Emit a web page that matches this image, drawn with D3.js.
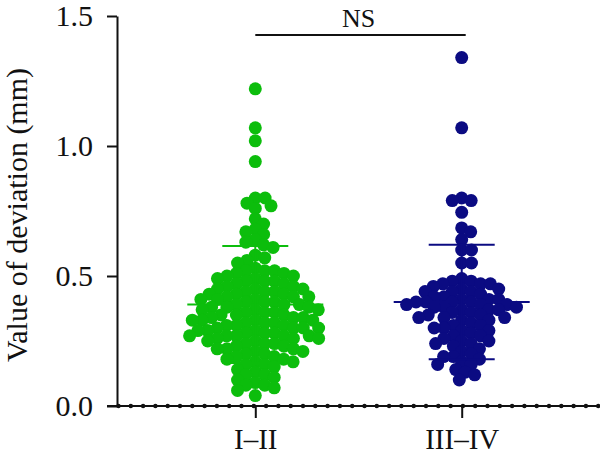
<!DOCTYPE html>
<html>
<head>
<meta charset="utf-8">
<script src="https://cdn.jsdelivr.net/npm/d3@7"></script>
<style>
  body { margin: 0; background: #fff; }
  svg { display: block; }
  text { font-family: "Liberation Serif", "DejaVu Serif", serif; fill: #111; }
</style>
</head>
<body>
<svg id="chart" width="600" height="454"></svg>
<script>
// values (mm)
const groups = ['I\u2013II', 'III\u2013IV'];
const colors = ['#0cbd0c', '#0b0b82'];

const stageI_II = [
  1.22, 1.07, 1.02, 0.94,
  0.80, 0.80, 0.78, 0.77, 0.76,
  0.72, 0.70,
  0.68, 0.67, 0.66,
  0.64, 0.63, 0.62, 0.61,
  0.58, 0.57, 0.56, 0.55,
  0.53, 0.52, 0.52, 0.52, 0.51, 0.51, 0.50, 0.50,
  0.49, 0.49, 0.48, 0.48, 0.48, 0.47, 0.47, 0.46, 0.46, 0.45, 0.45, 0.45,
  0.44, 0.44, 0.44, 0.43, 0.43, 0.43, 0.42, 0.42, 0.42, 0.41, 0.41, 0.41, 0.40, 0.40, 0.40,
  0.39, 0.39, 0.39, 0.38, 0.38, 0.38, 0.37, 0.37, 0.37, 0.36, 0.36, 0.36, 0.35, 0.35, 0.35,
  0.34, 0.34, 0.34, 0.33, 0.33, 0.33, 0.33, 0.32, 0.32, 0.32, 0.31, 0.31, 0.31, 0.30, 0.30, 0.30, 0.30,
  0.29, 0.29, 0.29, 0.28, 0.28, 0.28, 0.27, 0.27, 0.27, 0.27, 0.27, 0.26, 0.26, 0.26, 0.25, 0.25,
  0.24, 0.24, 0.24, 0.23, 0.23, 0.22, 0.22, 0.22, 0.21, 0.21, 0.20, 0.20,
  0.19, 0.19, 0.18, 0.18, 0.17, 0.17, 0.16, 0.16, 0.15,
  0.14, 0.13, 0.12, 0.12, 0.11, 0.10,
  0.09, 0.08, 0.08, 0.07, 0.06,
  0.04,
];

const stageIII_IV = [
  1.34, 1.07,
  0.80, 0.79, 0.79, 0.745, 0.685, 0.67, 0.64, 0.60, 0.60, 0.55, 0.55,
  0.49, 0.48, 0.48, 0.47, 0.47, 0.47,
  0.46, 0.45, 0.45, 0.44, 0.44, 0.44, 0.43,
  0.42, 0.42, 0.41, 0.41, 0.41, 0.40, 0.40, 0.40, 0.40,
  0.39, 0.39, 0.39, 0.38, 0.38, 0.38, 0.37, 0.37, 0.37,
  0.36, 0.36, 0.35, 0.35, 0.34, 0.34, 0.34,
  0.33, 0.33, 0.32, 0.31, 0.31, 0.30, 0.30,
  0.29, 0.29, 0.28, 0.27, 0.27, 0.26,
  0.25, 0.25, 0.24, 0.24, 0.23, 0.22,
  0.21, 0.20, 0.19, 0.19, 0.18,
  0.17, 0.16, 0.16, 0.14, 0.13,
  0.12, 0.10,
];

// mean and SD as drawn in the reference
const means = [0.39, 0.40];
const sds = [0.225, 0.22];

const yTicks = [0, 0.5, 1.0, 1.5];
const bracketLabel = 'NS';

const svg = d3.select('#chart');
const y = d3.scaleLinear().domain([0, 1.5]).range([406, 16]);
const x = d3.scalePoint().domain(groups).range([117, 600]).padding(0.67);

const r = 6.5;
const gap = 9.8; // centre distance allowed between dots (they overlap a bit)

// simple beeswarm: each dot goes to the free offset closest to the centre
function swarm(values) {
  const placed = [];
  const sorted = values.slice().sort((a, b) => b - a);
  sorted.forEach((v) => {
    const cy = y(v);
    const near = placed.filter((p) => Math.abs(p.cy - cy) < gap);
    const cands = [0];
    near.forEach((p) => {
      const dx = Math.sqrt(gap * gap - (p.cy - cy) ** 2);
      cands.push(p.dx + dx, p.dx - dx);
    });
    cands.sort((a, b) => Math.abs(a) - Math.abs(b));
    const ok = cands.find((c) => near.every((p) => (
      (p.dx - c) ** 2 + (p.cy - cy) ** 2 >= gap * gap - 0.01
    )));
    placed.push({ v, cy, dx: ok });
  });
  return placed;
}

const series = [stageI_II, stageIII_IV];

series.forEach((vals, i) => {
  const g = svg.append('g');
  g.selectAll('circle')
    .data(swarm(vals))
    .join('circle')
    .attr('cx', (d) => x(groups[i]) + d.dx)
    .attr('cy', (d) => d.cy)
    .attr('r', r)
    .attr('fill', colors[i]);

  const cx = x(groups[i]);
  const err = svg.append('g')
    .attr('stroke', colors[i])
    .attr('stroke-width', 2);
  err.append('line')
    .attr('x1', cx - 68).attr('x2', cx + 68)
    .attr('y1', y(means[i])).attr('y2', y(means[i]));
  err.append('line')
    .attr('x1', cx).attr('x2', cx)
    .attr('y1', y(means[i] - sds[i])).attr('y2', y(means[i] + sds[i]));
  [means[i] - sds[i], means[i] + sds[i]].forEach((v) => {
    err.append('line')
      .attr('x1', cx - 33).attr('x2', cx + 33)
      .attr('y1', y(v)).attr('y2', y(v));
  });
});

// y axis
const yAxis = svg.append('g')
  .attr('transform', 'translate(117,0)')
  .call(d3.axisLeft(y).tickValues(yTicks).tickFormat(d3.format('.1f'))
    .tickSize(10).tickPadding(14).tickSizeOuter(0));
yAxis.select('.domain').attr('stroke', '#111').attr('stroke-width', 2);
yAxis.selectAll('.tick line').attr('stroke', '#111').attr('stroke-width', 2);
yAxis.selectAll('text').style('font-size', '30px')
  .attr('font-family', null).attr('fill', null);

// x axis: line with small dots along it, like the original
const xAxis = svg.append('g')
  .attr('transform', 'translate(0,406)')
  .call(d3.axisBottom(x).tickSize(12).tickPadding(10).tickSizeOuter(0));
xAxis.select('.domain').remove();
xAxis.insert('line', ':first-child')
  .attr('x1', 107).attr('x2', 600)
  .attr('stroke', '#111').attr('stroke-width', 2);
xAxis.selectAll('circle.axdot')
  .data(d3.range(118.5, 600, 12.3))
  .join('circle')
  .attr('class', 'axdot')
  .attr('cx', (d) => d)
  .attr('r', 2.2)
  .attr('fill', '#111');
xAxis.selectAll('.tick line').attr('stroke', '#111').attr('stroke-width', 2);
xAxis.selectAll('text').style('font-size', '29px')
  .attr('font-family', null).attr('fill', null);

// y title
svg.append('text')
  .attr('transform', 'translate(27,215) rotate(-90)')
  .attr('text-anchor', 'middle')
  .style('font-size', '30px')
  .text('Value of deviation (mm)');

// significance bracket
svg.append('line')
  .attr('x1', x(groups[0])).attr('x2', x(groups[1]) + 4)
  .attr('y1', 35).attr('y2', 35)
  .attr('stroke', '#111').attr('stroke-width', 2);
svg.append('text')
  .attr('x', (x(groups[0]) + x(groups[1])) / 2)
  .attr('y', 27)
  .attr('text-anchor', 'middle')
  .style('font-size', '26px')
  .text(bracketLabel);
</script>
</body>
</html>
